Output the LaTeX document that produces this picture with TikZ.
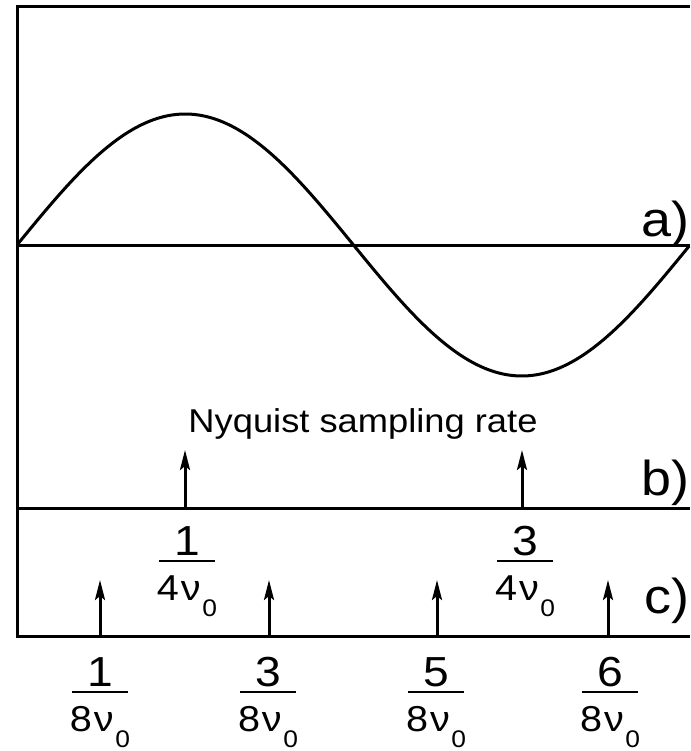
\documentclass[tikz,border=0pt]{standalone}
\usepackage{fontspec}
\setmainfont[FakeStretch=1.1]{Liberation Sans}
\usepackage{tikz}
\usetikzlibrary{arrows.meta}

% fraction 1/(n nu_0), baseline at the denominator
\newcommand{\nufrac}[2]{\makebox[66pt]{%
  \makebox[0pt]{\raisebox{45pt}{\fontsize{42}{42}\selectfont #1}}%
  \makebox[0pt]{\rule[37.7pt]{56pt}{2.6pt}}%
  \makebox[0pt]{\fontsize{36}{36}\selectfont #2\kern2pt ν\kern1.5pt\raisebox{-16pt}{\fontsize{24}{24}\selectfont 0}}}}

\begin{document}
\begin{tikzpicture}[
    x=1pt, y=-1pt,
    every node/.style={inner sep=0pt},
    axis/.style={line width=3pt},
    wave/.style={line width=3pt},
    spike/.style={-{Stealth[length=20pt, width=10pt, inset=4pt]}, line width=3pt},
    frac/.style={anchor=base},
    tag/.style={font=\fontsize{49}{49}\selectfont, anchor=base east}
  ]
  \useasboundingbox (0,0) rectangle (690,751);

  % frame and axes
  \draw[axis] (690,7) -- (17,7) -- (17,636) -- (690,636);
  \draw[axis] (17,245) -- (690,245);
  \draw[axis] (17,508) -- (690,508);

  % a) the signal
  \draw[wave] plot[domain=0:1, samples=120, smooth] ({17+673*\x},{245-131*sin(360*\x)});
  \node[tag] (ta) at (690,236) {a)};

  % b) Nyquist sampling
  \coordinate (b1) at (185,508);
  \coordinate (b1t) at (185,450);
  \coordinate (b3) at (522,508);
  \coordinate (b3t) at (522,450);
  \draw[spike] (b1) -- (b1t);
  \draw[spike] (b3) -- (b3t);
  \node[font=\fontsize{33}{33}\selectfont, anchor=base] (nyq) at (363,432) {Nyquist sampling rate};
  \node[tag] (tb) at (690,495) {b)};
  \node[frac] (fb1) at (187,600) {\nufrac{1}{4}};
  \node[frac] (fb3) at (525,600) {\nufrac{3}{4}};

  % c) twice the rate
  \coordinate (c1) at (100,636);
  \coordinate (c1t) at (100,580);
  \coordinate (c3) at (269,636);
  \coordinate (c3t) at (269,580);
  \coordinate (c5) at (437,636);
  \coordinate (c5t) at (437,580);
  \coordinate (c6) at (608,636);
  \coordinate (c6t) at (608,580);
  \draw[spike] (c1) -- (c1t);
  \draw[spike] (c3) -- (c3t);
  \draw[spike] (c5) -- (c5t);
  \draw[spike] (c6) -- (c6t);
  \node[tag] (tc) at (690,613) {c)};
  \node[frac] (fc1) at (100,731) {\nufrac{1}{8}};
  \node[frac] (fc3) at (268,731) {\nufrac{3}{8}};
  \node[frac] (fc5) at (436,731) {\nufrac{5}{8}};
  \node[frac] (fc6) at (610,731) {\nufrac{6}{8}};
\end{tikzpicture}
\end{document}
